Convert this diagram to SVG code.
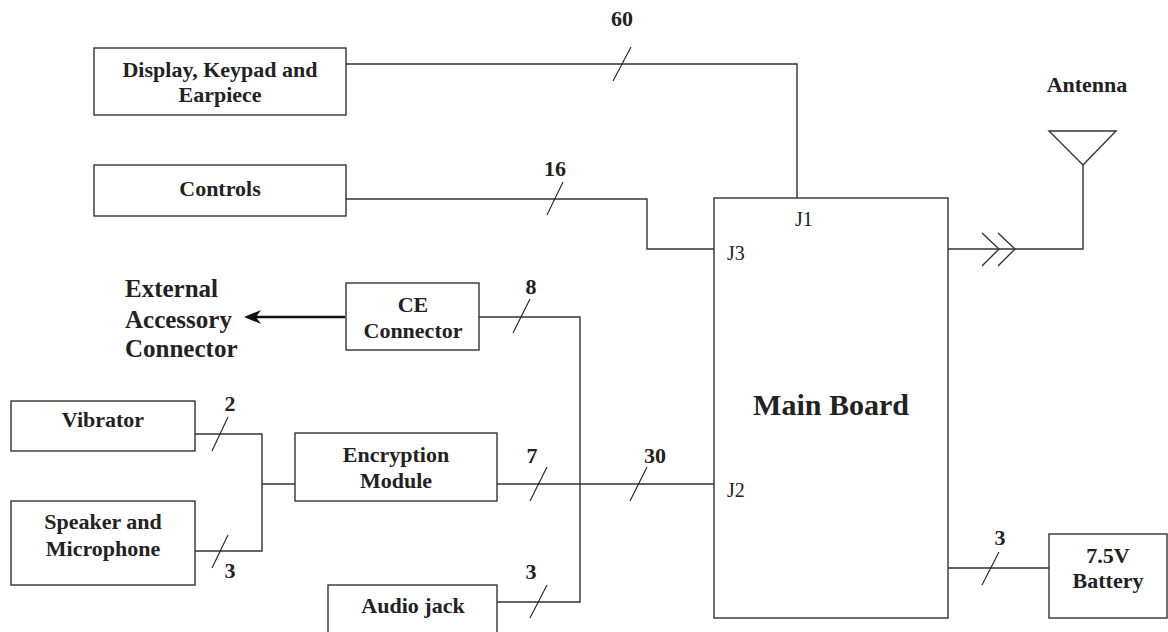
<svg xmlns="http://www.w3.org/2000/svg" width="1168" height="632" viewBox="0 0 1168 632">
<defs>
<style>
.box{fill:#fff;stroke:#333;stroke-width:1.4}
.ln{fill:none;stroke:#333;stroke-width:1.4}
.sl{fill:none;stroke:#222;stroke-width:1.1}
.t{font-family:"Liberation Serif","Times New Roman",serif;font-weight:bold;font-size:22px;fill:#222;text-anchor:middle}
.j{font-family:"Liberation Serif","Times New Roman",serif;font-size:20px;fill:#222}
</style>
</defs>
<rect width="1168" height="632" fill="#fff"/>
<g id="connectors">
<polyline class="ln" points="346,64 797,64 797,198"/>
<polyline class="ln" points="346,199 647,199 647,249 714,249"/>
<polyline class="ln" points="479,317 580,317 580,602 497,602"/>
<line class="ln" x1="497" y1="484" x2="714" y2="484"/>
<polyline class="ln" points="195,434 262,434 262,551 195,551"/>
<line class="ln" x1="262" y1="484" x2="295" y2="484"/>
<line class="ln" x1="948" y1="568" x2="1049" y2="568"/>
<polyline class="ln" points="948,249 1015,249"/>
<polyline class="ln" points="982,233 999,249 982,266"/>
<polyline class="ln" points="998,233 1015,249 998,266"/>
<polyline class="ln" points="1015,249 1083,249 1083,165"/>
<line x1="345" y1="317" x2="256" y2="317" stroke="#111" stroke-width="2.6"/>
<path d="M261,310 L244,317 L261,324 L256,317 Z" fill="#111"/>
<line class="sl" x1="613" y1="81" x2="631" y2="47"/>
<line class="sl" x1="547" y1="215" x2="563" y2="182"/>
<line class="sl" x1="513" y1="333" x2="530" y2="299"/>
<line class="sl" x1="530" y1="501" x2="547" y2="467"/>
<line class="sl" x1="630" y1="501" x2="647" y2="467"/>
<line class="sl" x1="530" y1="618" x2="547" y2="585"/>
<line class="sl" x1="212" y1="451" x2="228" y2="417"/>
<line class="sl" x1="212" y1="568" x2="228" y2="535"/>
<line class="sl" x1="982" y1="585" x2="999" y2="552"/>
<text class="t" x="622" y="26">60</text>
<text class="t" x="555" y="176">16</text>
<text class="t" x="531" y="294">8</text>
<text class="t" x="532" y="463">7</text>
<text class="t" x="655" y="463">30</text>
<text class="t" x="531" y="579">3</text>
<text class="t" x="230" y="411">2</text>
<text class="t" x="230" y="578">3</text>
<text class="t" x="1000" y="545">3</text>
</g>
<g id="display">
<rect class="box" x="94" y="48" width="252" height="67"/>
<text class="t" x="220" y="77">Display, Keypad and</text>
<text class="t" x="220" y="102">Earpiece</text>
</g>
<g id="controls">
<rect class="box" x="94" y="165" width="252" height="51"/>
<text class="t" x="220" y="196">Controls</text>
</g>
<g id="main-board">
<rect class="box" x="714" y="198" width="234" height="420"/>
<text class="t" x="831" y="415" style="font-size:30px">Main Board</text>
<text class="j" x="795" y="226">J1</text>
<text class="j" x="727" y="260">J3</text>
<text class="j" x="727" y="497">J2</text>
</g>
<g id="antenna">
<polygon class="ln" points="1049,131 1116,131 1083,165"/>
<text class="t" x="1087" y="92">Antenna</text>
</g>
<g id="external-accessory">
<text class="t" x="125" y="297" style="text-anchor:start;font-size:25px">External</text>
<text class="t" x="125" y="328" style="text-anchor:start;font-size:25px">Accessory</text>
<text class="t" x="125" y="357" style="text-anchor:start;font-size:25px">Connector</text>
</g>
<g id="ce-connector">
<rect class="box" x="346" y="283" width="133" height="67"/>
<text class="t" x="413" y="312">CE</text>
<text class="t" x="413" y="338">Connector</text>
</g>
<g id="encryption-module">
<rect class="box" x="295" y="433" width="202" height="68"/>
<text class="t" x="396" y="462">Encryption</text>
<text class="t" x="396" y="488">Module</text>
</g>
<g id="audio-jack">
<rect class="box" x="328" y="585" width="169" height="60"/>
<text class="t" x="413" y="613">Audio jack</text>
</g>
<g id="vibrator">
<rect class="box" x="11" y="401" width="184" height="50"/>
<text class="t" x="103" y="427">Vibrator</text>
</g>
<g id="speaker-microphone">
<rect class="box" x="11" y="501" width="184" height="84"/>
<text class="t" x="103" y="529">Speaker and</text>
<text class="t" x="103" y="556">Microphone</text>
</g>
<g id="battery">
<rect class="box" x="1049" y="534" width="118" height="84"/>
<text class="t" x="1108" y="563">7.5V</text>
<text class="t" x="1108" y="588">Battery</text>
</g>
</svg>
